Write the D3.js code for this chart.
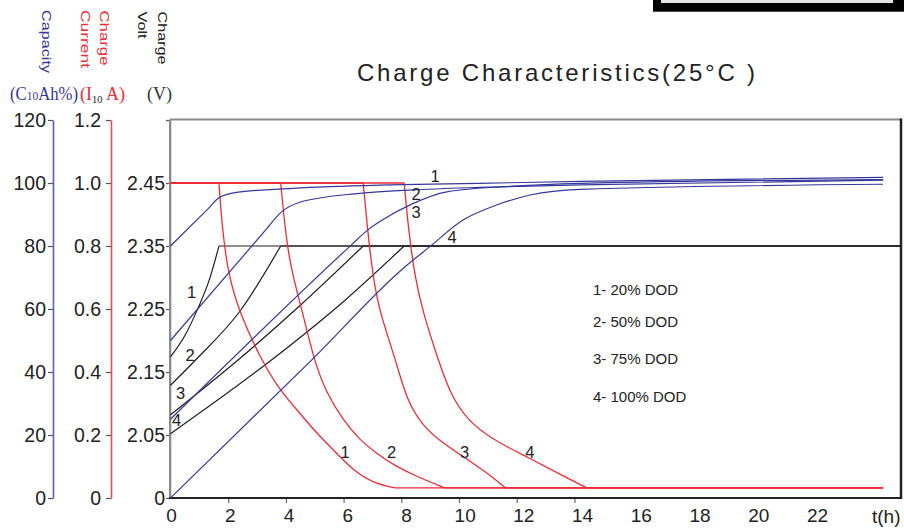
<!DOCTYPE html>
<html><head><meta charset="utf-8">
<script src="https://cdn.jsdelivr.net/npm/d3@7/dist/d3.min.js"></script>
<style>html,body{margin:0;padding:0;background:#fff;} svg{display:block;}</style>
</head><body><svg id="c" width="904" height="532"></svg>
<script>
// ---------- data ----------
const hourLabels = [0,2,4,6,8,10,12,14,16,18,20,22];
const hourTickMarks = [2,4,6,8,10,12,14];
const capacityTicks = [0,20,40,60,80,100,120];
const currentTicks = [0,0.2,0.4,0.6,0.8,1.0,1.2];
const currentTickLabels = ["0","0.2","0.4","0.6","0.8","1.0","1.2"];
const voltTicks = [1.95,2.05,2.15,2.25,2.35,2.45,2.55];
const voltTickLabels = ["0","2.05","2.15","2.25","2.35","2.45",""];
const seriesIds = ["1","2","3","4"];
const dodLegend = ["1- 20% DOD","2- 50% DOD","3- 75% DOD","4- 100% DOD"];

// capacity (% of C10Ah) vs hours
const capacity1 = [[0,80],[1.3,91.8],[1.68,95.3],[2.28,97.0],[4.24,98.3],[7.6,99.4],[10.7,99.9],[14.2,100.5],[24.7,101.8]];
const capacity2 = [[0,50],[3.3,85.1],[3.82,90.6],[4.48,93.9],[6.56,96.7],[8.4,97.8],[10.7,98.6],[14.2,99.4],[24.7,100.9]];
const capacity3 = [[0,25],[6.3,80.6],[6.8,84.8],[7.3,88.0],[8.36,93.3],[9.58,97.2],[11.88,99.0],[14.2,99.9],[24.7,101.1]];
const capacity4 = [[0,0],[4.97,44.5],[8.13,73.4],[8.99,79.8],[10.15,88.3],[11.3,93.0],[12.47,96.2],[14.2,98.0],[24.7,99.6]];
// charge current (I10 A) vs hours
const current1 = [[0,1],[1.68,1],[1.79,0.86],[1.99,0.713],[2.4,0.586],[3.15,0.438],[3.78,0.343],[4.48,0.27],[5.06,0.206],[5.75,0.143],[6.32,0.089],[7.01,0.048],[7.78,0.032],[24.7,0.032]];
const current2 = [[0,1],[3.82,1],[4.02,0.81],[4.25,0.70],[4.59,0.586],[4.97,0.438],[5.41,0.332],[5.98,0.248],[6.56,0.184],[7.14,0.142],[7.72,0.105],[8.53,0.068],[9.51,0.032],[24.7,0.032]];
const current3 = [[0,1],[6.68,1],[6.82,0.86],[7.02,0.70],[7.26,0.586],[7.81,0.438],[8.18,0.311],[8.76,0.226],[9.45,0.174],[10.15,0.131],[10.84,0.089],[11.62,0.032],[24.7,0.032]];
const current4 = [[0,1],[8.1,1],[8.24,0.86],[8.47,0.70],[8.76,0.586],[9.28,0.438],[9.69,0.332],[10.27,0.248],[11.19,0.184],[12.35,0.131],[13.5,0.075],[14.43,0.032],[24.7,0.032]];
// charge voltage (V) vs hours
const volt1 = [[0,2.174],[0.5,2.208],[0.95,2.251],[1.35,2.297],[1.68,2.35],[25.3,2.35]];
const volt2 = [[0,2.129],[0.87,2.169],[2.43,2.248],[3.82,2.35],[25.3,2.35]];
const volt3 = [[0,2.082],[2.34,2.169],[4.5,2.256],[6.68,2.35],[25.3,2.35]];
const volt4 = [[0,2.052],[3.5,2.169],[6.0,2.262],[8.1,2.35],[25.3,2.35]];

// curve number annotations [hours, value]
const voltLabelAt = [[0.73,63.5],[0.68,43.5],[0.35,31.4],[0.21,22.9]];      // capacity units
const capLabelAt = [[9.17,100.3],[8.51,94.6],[8.51,88.9],[9.76,81.0]];     // capacity units
const currentLabelAt = [[6.05,0.127],[7.66,0.127],[10.19,0.127],[12.46,0.127]];

// ---------- drawing ----------
const BLUE = "#35379a", RED = "#ef2b34", BLACK = "#1e1e1e";
const svg = d3.select("#c");
const FONT = "'Liberation Sans', Arial, Helvetica, sans-serif";
const SERIF = "'Liberation Serif', 'Times New Roman', serif";

const x = d3.scaleLinear().domain([0,25.3]).range([170.5,900.4]);
const xLab = d3.scaleLinear().domain([0,22]).range([171,817]);
const yCap = d3.scaleLinear().domain([0,120]).range([498,120]);
const yCur = d3.scaleLinear().domain([0,1.2]).range([498,120]);
const yVolt = d3.scaleLinear().domain([1.95,2.55]).range([498,120]);

// decoration box top right
svg.append("rect").attr("x",653).attr("y",-2).attr("width",260).attr("height",13.7).attr("fill","#000");
svg.append("rect").attr("x",661).attr("y",-2).attr("width",232).attr("height",5).attr("fill","#e4e4e4");

// title
svg.append("text").attr("x",357).attr("y",81).attr("font-family",FONT).attr("font-size",24)
  .attr("fill","#222").attr("textLength",398).attr("lengthAdjust","spacing")
  .text("Charge Characteristics(25°C )");

// rotated headers
function vtext(txt, bx, ty, len, color){
  svg.append("text").attr("x",bx).attr("y",ty).attr("transform",`rotate(90,${bx},${ty})`)
    .attr("font-family",FONT).attr("font-size",13.5).attr("fill",color)
    .attr("textLength",len).attr("lengthAdjust","spacingAndGlyphs").text(txt);
}
vtext("Capacity",41.5,10,63,BLUE);
vtext("Charge",100,10.5,55,RED);
vtext("Current",81,10,58,RED);
vtext("Charge",157.5,11.5,53,"#222");
vtext("Volt",137.5,11.5,27,"#222");

// unit headers (horizontally condensed serif)
const t1 = svg.append("text").attr("x",0).attr("y",0).attr("font-family",SERIF).attr("font-size",19)
  .attr("fill",BLUE).attr("transform","translate(10,100) scale(0.88,1)");
t1.append("tspan").text("(C");
t1.append("tspan").attr("font-size",13).text("10");
t1.append("tspan").text("Ah%)");
const t2 = svg.append("text").attr("x",0).attr("y",0).attr("font-family",SERIF).attr("font-size",19)
  .attr("fill",RED).attr("transform","translate(80,100) scale(0.95,1)");
t2.append("tspan").text("(I");
t2.append("tspan").attr("font-size",11).attr("fill","#222").attr("dy",3).text("10");
t2.append("tspan").attr("dy",-3).text(" A)");
svg.append("text").attr("x",0).attr("y",0).attr("font-family",SERIF).attr("font-size",19)
  .attr("fill","#333").attr("transform","translate(147,100) scale(0.95,1)").text("(V)");

// y axes
function styleAxis(g, lineColor){
  g.attr("font-family",FONT).attr("font-size",19.5);
  g.select(".domain").attr("stroke",lineColor).attr("stroke-width",1.6);
  g.selectAll(".tick line").attr("stroke","#555").attr("stroke-width",1.2);
  g.selectAll(".tick text").attr("fill","#222");
}
const gCap = svg.append("g").attr("transform","translate(53,0)")
  .call(d3.axisLeft(yCap).tickValues(capacityTicks).tickSize(5).tickSizeOuter(0).tickPadding(2).tickFormat(d3.format("d")));
styleAxis(gCap, "#5a5cc4");
const gCur = svg.append("g").attr("transform","translate(111,0)")
  .call(d3.axisLeft(yCur).tickValues(currentTicks).tickSize(5).tickSizeOuter(0).tickPadding(5)
    .tickFormat((d,i)=>currentTickLabels[i]));
styleAxis(gCur, "#ea4b52");
const gVolt = svg.append("g").attr("transform","translate(170,0)")
  .call(d3.axisLeft(yVolt).tickValues(voltTicks).tickSize(4).tickSizeOuter(0).tickPadding(1)
    .tickFormat((d,i)=>voltTickLabels[i]));
styleAxis(gVolt, "#888");

// frame
const fx0 = 170, fx1 = 901, fy0 = 119.5, fy1 = 498;
svg.append("line").attr("x1",fx0).attr("x2",fx1).attr("y1",fy0).attr("y2",fy0).attr("stroke","#8a8a8a").attr("stroke-width",2);
svg.append("line").attr("x1",fx0).attr("x2",fx0).attr("y1",fy0).attr("y2",fy1).attr("stroke","#8a8a8a").attr("stroke-width",2);
svg.append("line").attr("x1",fx1).attr("x2",fx1).attr("y1",fy0-1).attr("y2",fy1+1).attr("stroke","#222").attr("stroke-width",2.5);

// x axis
const gX = svg.append("g").attr("transform","translate(0,498)")
  .call(d3.axisBottom(xLab).tickValues(hourLabels).tickSize(0).tickPadding(11).tickFormat(d3.format("d")));
gX.attr("font-family",FONT).attr("font-size",19);
gX.select(".domain").remove();
gX.selectAll(".tick text").attr("fill","#222");
const gXt = svg.append("g").attr("transform","translate(0,498)")
  .call(d3.axisBottom(x).tickValues(hourTickMarks).tickSize(5).tickFormat(""));
gXt.select(".domain").remove();
gXt.selectAll(".tick line").attr("stroke","#666").attr("stroke-width",1.2);
svg.append("line").attr("x1",fx0-1).attr("x2",fx1+1).attr("y1",fy1).attr("y2",fy1).attr("stroke","#222").attr("stroke-width",2);
svg.append("text").attr("x",872).attr("y",523).attr("font-family",FONT).attr("font-size",19).attr("fill","#222").text("t(h)");

// lines
const mono = (ys)=> d3.line().x(d=>x(d[0])).y(d=>ys(d[1])).curve(d3.curveMonotoneX);
const smooth = (ys)=> d3.line().x(d=>x(d[0])).y(d=>ys(d[1])).curve(d3.curveBasis);
const lin = (ys)=> d3.line().x(d=>x(d[0])).y(d=>ys(d[1]));
const plot = svg.append("g");

[volt1,volt2,volt3,volt4].forEach(s=>{
  const n = s.length;
  plot.append("path").attr("d",mono(yVolt)(s.slice(0,n-1))).attr("fill","none").attr("stroke",BLACK).attr("stroke-width",1.2);
  plot.append("path").attr("d",lin(yVolt)(s.slice(n-2))).attr("fill","none").attr("stroke",BLACK).attr("stroke-width",1.2);
});
[current1,current2,current3,current4].forEach(s=>{
  const n = s.length;
  plot.append("path").attr("d",lin(yCur)(s.slice(0,2))).attr("fill","none").attr("stroke",RED).attr("stroke-width",1.3);
  plot.append("path").attr("d",smooth(yCur)(s.slice(1,n-1))).attr("fill","none").attr("stroke",RED).attr("stroke-width",1.3);
  plot.append("path").attr("d",lin(yCur)(s.slice(n-2))).attr("fill","none").attr("stroke",RED).attr("stroke-width",1.3);
});
[capacity1,capacity2,capacity3,capacity4].forEach(s=>{
  plot.append("path").attr("d",mono(yCap)(s)).attr("fill","none").attr("stroke",BLUE).attr("stroke-width",1.2);
});

// curve labels
function labels(pos, ys){
  plot.selectAll(null).data(pos).enter().append("text")
    .attr("x",d=>x(d[0])).attr("y",d=>ys(d[1])).attr("text-anchor","middle")
    .attr("font-family",FONT).attr("font-size",16.5).attr("fill","#222")
    .text((d,i)=>seriesIds[i]);
}
labels(voltLabelAt, yCap);
labels(capLabelAt, yCap);
labels(currentLabelAt, yCur);

// legend
const legendY = [294.5,327,363.5,401.5];
svg.append("g").selectAll("text").data(dodLegend).enter().append("text")
  .attr("x",593).attr("y",(d,i)=>legendY[i]).attr("font-family",FONT).attr("font-size",15)
  .attr("fill","#222").text(d=>d);
</script></body></html>
